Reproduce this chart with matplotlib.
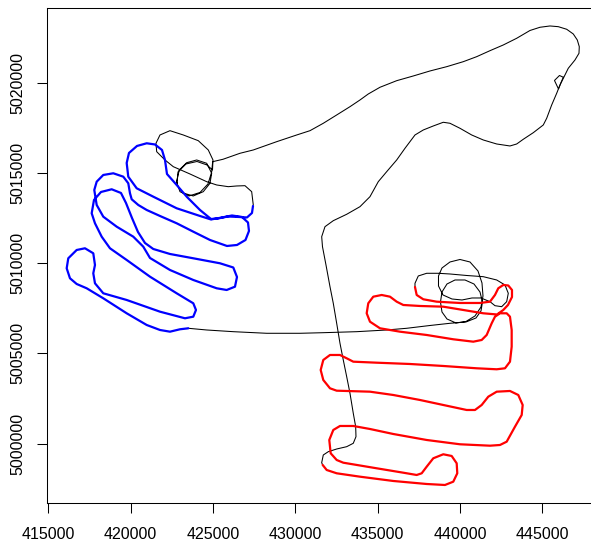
import numpy as np
import matplotlib
matplotlib.use("Agg")
import matplotlib.pyplot as plt
import matplotlib.ticker as ticker

# ---------------------------------------------------------------
# TRACK DATA (UTM easting / northing, m)
# black: transit from end of red grid, north, round the airfield
south_e = [431661, 431601, 431698, 432001, 432511, 433119, 433519, 433683, 433665, 433519,
           433319, 433119, 432912, 432712, 432511, 432305, 432105, 431862, 431649, 431601,
           431801, 432305, 433119, 433926, 434533, 435037, 435547, 436155, 436659, 437266,
           437770, 438377, 438984, 439391, 439998, 440709, 441413, 442227, 443034, 443441,
           443842, 444449, 445056, 445263, 445566, 445870, 446070, 446271]
south_n = [4998820, 4998947, 4999374, 4999557, 4999706, 4999834, 5000022, 5000388, 5000942, 5001684,
           5002792, 5003712, 5004637, 5005562, 5006670, 5007778, 5008698, 5009900, 5010914, 5011468,
           5012022, 5012354, 5012709, 5013130, 5013684, 5014515, 5015069, 5015717, 5016365, 5017102,
           5017379, 5017601, 5017806, 5017750, 5017473, 5017102, 5016825, 5016603, 5016493, 5016603,
           5016864, 5017229, 5017656, 5018027, 5018764, 5019412, 5019872, 5020299]

# black: airfield, over the top, west to the circles and into the blue grid
north_e = [446271, 446040, 445736, 445979, 446101, 446313, 446574, 446981, 447224, 447242,
           447121, 446878, 446477, 445967, 445463, 444856, 444249, 443441, 442627, 441820,
           441012, 440199, 439191, 438177, 437163, 436155, 435141, 434430, 433926, 433319,
           432511, 431698, 430890, 430083, 428868, 427447, 426640, 425608, 424982,
           424921, 424697, 424211, 423543, 422997, 422784, 422954, 423403, 424011, 424618,
           424921, 424818, 424411, 423804, 423179, 422814, 422875, 423361, 424029, 424636,
           424970, 425000, 424715, 424108, 423197, 422389, 421782, 421539, 421582, 422086,
           422590, 423604, 424618, 425225, 425929, 426439, 426943, 427350, 427447]
north_n = [5020299, 5020398, 5020121, 5019650, 5019927, 5020315, 5020797, 5021257, 5021628, 5021994,
           5022365, 5022697, 5022958, 5023102, 5023141, 5023069, 5022891, 5022459, 5022088, 5021772,
           5021440, 5021163, 5020886, 5020648, 5020371, 5020110, 5019745, 5019373, 5019041, 5018670,
           5018210, 5017750, 5017340, 5017102, 5016731, 5016271, 5016088, 5015756, 5015623,
           5015052, 5014387, 5013917, 5013723, 5013961, 5014515, 5015163, 5015567, 5015717, 5015534,
           5014980, 5014426, 5013961, 5013723, 5013889, 5014332, 5015052, 5015495, 5015634, 5015440,
           5015163, 5015717, 5016271, 5016786, 5017102, 5017340, 5017102, 5016642, 5016177, 5015717,
           5015346, 5014941, 5014515, 5014332, 5014238, 5014277, 5014293, 5013961, 5013224]

# black: from end of blue grid east to the loops and the red grid
link_e = [423501, 424618, 426233, 428261, 430283, 431698, 433726, 435547, 436762, 438177,
          439391, 440363, 440970, 441273, 441364, 441213, 440848, 440302, 439695, 439209,
          438905, 438814, 438905, 439209, 439755, 440363, 440909, 441273, 441395, 441334,
          441091, 440605, 439998, 439391, 438905, 438693, 438693, 438966, 439512, 440120,
          440727, 441273, 441820, 442123, 442530, 442834, 442931, 442731, 442227, 441413,
          440405, 439391, 438681, 437976, 437466, 437266, 437266]
link_n = [5006393, 5006299, 5006205, 5006116, 5006116, 5006149, 5006205, 5006299, 5006393, 5006548,
          5006670, 5006742, 5006964, 5007352, 5007850, 5008404, 5008847, 5009069, 5009069, 5008847,
          5008404, 5007850, 5007296, 5006908, 5006687, 5006770, 5007075, 5007573, 5008183, 5008903,
          5009568, 5010066, 5010205, 5010066, 5009734, 5009291, 5008737, 5008238, 5008016, 5007961,
          5008072, 5008072, 5007867, 5007645, 5007590, 5007867, 5008332, 5008792, 5009069, 5009252,
          5009318, 5009401, 5009440, 5009440, 5009291, 5008886, 5008681]

# blue survey grid (west)
blue_e = [427430, 427368, 427065, 426579, 425911, 425304, 424879, 424211, 423422, 422796,
          422207, 422086, 421904, 421479, 420975, 420386, 419900, 419760, 419857, 420367,
          421375, 422796, 424211, 424879, 425547, 426154, 426761, 427126, 427186, 426974,
          426458, 425850, 424818, 423804, 422796, 421782, 420975, 420465, 420064, 419961,
          419857, 419554, 418947, 418339, 417939, 417793, 417939, 418339, 419153, 420161,
          420768, 421175, 422389, 423804, 425225, 425832, 426336, 426458, 426233, 425425,
          423804, 422389, 421375, 420871, 420446, 420082, 419718, 419414, 418849, 418200,
          417775, 417635, 417835, 418242, 418746, 419760, 421175, 422796, 423804, 423968,
          423804, 423300, 421782, 419760, 418339, 417835, 417732, 417835, 417732, 417228,
          416724, 416214, 416117, 416317, 416724, 417331, 418339, 419760, 420975, 421782,
          422389, 422997, 423501]
blue_n = [5013170, 5012781, 5012532, 5012559, 5012587, 5012476, 5012448, 5012947, 5013667, 5014332,
          5014941, 5015717, 5016271, 5016576, 5016642, 5016493, 5016105, 5015551, 5014792, 5014149,
          5013684, 5013041, 5012615, 5012421, 5012532, 5012642, 5012559, 5012254, 5011784, 5011285,
          5011008, 5010953, 5011285, 5011745, 5012210, 5012615, 5012947, 5013224, 5013540, 5013872,
          5014426, 5014792, 5014980, 5014886, 5014515, 5014055, 5013224, 5012576, 5012022, 5011468,
          5010914, 5010288, 5009623, 5009069, 5008609, 5008515, 5008698, 5009235, 5009761, 5009994,
          5010271, 5010509, 5010786, 5011119, 5011728, 5012504, 5013335, 5013889, 5014094, 5013944,
          5013501, 5012764, 5012210, 5011468, 5010825, 5010177, 5009252, 5008332, 5007778, 5007407,
          5007036, 5006947, 5007313, 5007961, 5008332, 5008886, 5009440, 5009900, 5010548, 5010825,
          5010731, 5010271, 5009717, 5009163, 5008847, 5008609, 5008055, 5007224, 5006576, 5006299,
          5006205, 5006338, 5006393]

# red survey grid (east)
red_e = [437266, 437369, 437770, 438583, 439998, 441213, 441820, 442123, 442324, 442627,
         442931, 443156, 443156, 442913, 442627, 442245, 441413, 440199, 438984, 437569,
         436555, 436155, 435748, 435244, 434734, 434430, 434333, 434533, 435141, 436355,
         437976, 439591, 440806, 441316, 441619, 441923, 442123, 442427, 442834, 443034,
         443137, 443137, 443034, 442731, 442227, 441012, 438984, 436962, 434940, 433519,
         433119, 432712, 432105, 431698, 431540, 431698, 432105, 432511, 434533, 435948,
         437569, 438984, 440405, 440909, 441316, 441717, 442227, 443034, 443538, 443805,
         443745, 443338, 442834, 442427, 441820, 439998, 437976, 435948, 434533, 433519,
         432712, 432305, 432062, 432147, 432511, 432912, 434940, 436555, 437369, 437673,
         437976, 438377, 438984, 439494, 439798, 439834, 439591, 439087, 437976, 435948,
         433926, 432511, 431904, 431661]
red_n = [5008681, 5008238, 5008000, 5007867, 5007795, 5007795, 5007867, 5008238, 5008609, 5008792,
         5008764, 5008515, 5008127, 5007684, 5007407, 5007158, 5007224, 5007407, 5007590, 5007629,
         5007684, 5007867, 5008144, 5008238, 5008144, 5007778, 5007224, 5006759, 5006393, 5006205,
         5006022, 5005784, 5005651, 5005745, 5006022, 5006670, 5007036, 5007224, 5007224, 5007036,
         5006299, 5005374, 5004543, 5004177, 5004122, 5004177, 5004305, 5004415, 5004487, 5004543,
         5004731, 5004914, 5004914, 5004637, 5004083, 5003529, 5003069, 5002936, 5002881, 5002698,
         5002421, 5002144, 5001867, 5001867, 5002144, 5002604, 5002881, 5002920, 5002698, 5002144,
         5001590, 5000942, 5000111, 4999928, 4999889, 4999967, 5000205, 5000537, 5000814, 5000981,
         5000981, 5000759, 5000205, 4999468, 4999097, 4998947, 4998637, 4998393, 4998266, 4998360,
         4998726, 4999191, 4999413, 4999319, 4998914, 4998360, 4997895, 4997712, 4997767, 4997934,
         4998172, 4998360, 4998543, 4998820]

x_ticks = [415000, 420000, 425000, 430000, 435000, 440000, 445000]
y_ticks = [5000000, 5005000, 5010000, 5015000, 5020000]

#================================================================
plt.rcParams['font.family'] = ['Liberation Sans', 'DejaVu Sans']

fig = plt.figure(figsize=(5.91, 5.41), dpi=100)
ax = fig.add_axes([0.0790, 0.0697, 0.9362, 0.9150])

for xs, ys in [(south_e, south_n), (north_e, north_n), (link_e, link_n)]:
    ax.plot(xs, ys, color='black', linewidth=0.75, solid_joinstyle='round')
ax.plot(blue_e, blue_n, color='#0000FF', linewidth=1.6, solid_joinstyle='round', solid_capstyle='round')
ax.plot(red_e, red_n, color='#FF0000', linewidth=1.6, solid_joinstyle='round', solid_capstyle='round')

ax.set_xlim(414903, 448499)
ax.set_ylim(4996698, 5024121)

ax.xaxis.set_major_locator(ticker.FixedLocator(x_ticks))
ax.yaxis.set_major_locator(ticker.FixedLocator(y_ticks))
ax.xaxis.set_major_formatter(ticker.FuncFormatter(lambda v, p: f"{v:.0f}"))
ax.yaxis.set_major_formatter(ticker.FuncFormatter(lambda v, p: f"{v:.0f}"))

ax.tick_params(direction='out', length=7, width=0.75, labelsize=11.5, colors='black')
ax.tick_params(axis='x', pad=10)
ax.tick_params(axis='y', pad=8)
for lab in ax.get_yticklabels():
    lab.set_rotation(90)
    lab.set_va('center')

for side in ['left', 'bottom', 'top', 'right']:
    ax.spines[side].set_linewidth(0.75)

fig.savefig('out.png', dpi=100)
